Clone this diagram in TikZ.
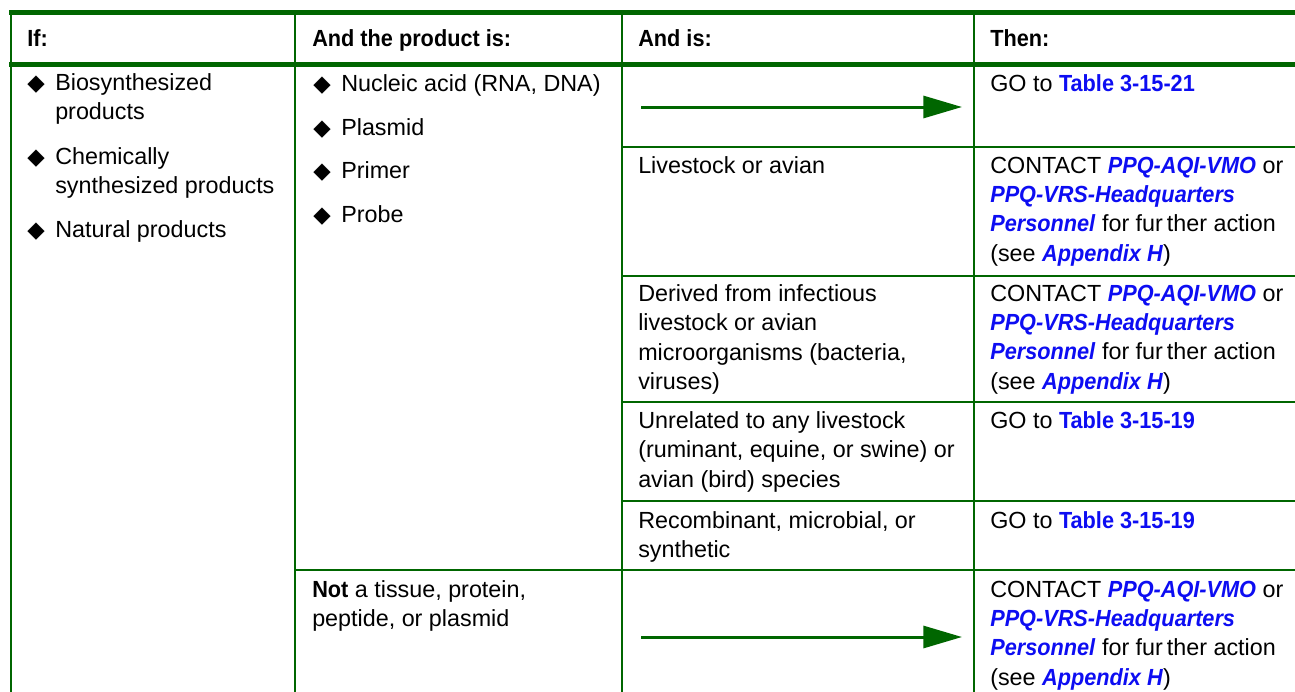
\documentclass[tikz,border=0pt]{standalone}
\usepackage{fontspec}
\setmainfont{Liberation Sans}[BoldFeatures={FakeStretch=0.93},BoldItalicFeatures={FakeStretch=0.93}]
\newfontfamily\symfont{DejaVu Sans}
\usetikzlibrary{arrows.meta}
\definecolor{tgreen}{rgb}{0,0.4,0}
\definecolor{lblue}{rgb}{0.05,0.05,0.95}
\newcommand\tsize{\fontsize{17.5}{22}\selectfont}
\tikzset{%
  rule/.style={draw=tgreen,line width=1.1pt},
  bar/.style={draw=tgreen,line width=3.75pt},
  cell/.style={anchor=north west,yshift=15.4pt,inner sep=0pt,align=left,font=\tsize,execute at begin node=\strut},
  mcell/.style={cell,yshift=-3pt},
  hd/.style={cell,font=\tsize\bfseries},
  bul/.style={anchor=base west,inner sep=0pt,font=\symfont\fontsize{17}{22}\selectfont},
  arr/.style={draw=tgreen,line width=2.25pt,-{Triangle[length=29pt,width=16.5pt]}}
}
\newcommand\lnk[1]{\textcolor{lblue}{\textbf{#1}}}
\newcommand\lnki[1]{\textcolor{lblue}{\textbf{\textit{#1}}}}
\newcommand\contact{CONTACT \lnki{PPQ-AQI-VMO} or\\\lnki{PPQ-VRS-Headquarters}\\\lnki{Personnel} for fur\,ther action\\(see \lnki{Appendix H})}
\begin{document}
\begin{tikzpicture}[x=0.75pt,y=-0.75pt]
  \useasboundingbox (0,0) rectangle (1295,692);
  %% column lines
  \coordinate (v0t) at (11,13);  \coordinate (v0b) at (11,692);
  \coordinate (v1t) at (295,13); \coordinate (v1b) at (295,692);
  \coordinate (v2t) at (622,13); \coordinate (v2b) at (622,692);
  \coordinate (v3t) at (974,13); \coordinate (v3b) at (974,692);
  \draw[rule] (v0t)--(v0b);
  \draw[rule] (v1t)--(v1b);
  \draw[rule] (v2t)--(v2b);
  \draw[rule] (v3t)--(v3b);
  %% row lines
  \coordinate (r1l) at (622,147); \coordinate (r1r) at (1295,147);
  \coordinate (r2l) at (622,276); \coordinate (r2r) at (1295,276);
  \coordinate (r3l) at (622,402); \coordinate (r3r) at (1295,402);
  \coordinate (r4l) at (622,501); \coordinate (r4r) at (1295,501);
  \coordinate (r5l) at (295,570); \coordinate (r5r) at (1295,570);
  \draw[rule] (r1l)--(r1r);
  \draw[rule] (r2l)--(r2r);
  \draw[rule] (r3l)--(r3r);
  \draw[rule] (r4l)--(r4r);
  \draw[rule] (r5l)--(r5r);
  %% header bars
  \coordinate (h0l) at (9,12.5); \coordinate (h0r) at (1295,12.5);
  \coordinate (h1l) at (9,64.5); \coordinate (h1r) at (1295,64.5);
  \draw[bar] (h0l)--(h0r);
  \draw[bar] (h1l)--(h1r);
  %%%
  \node[hd] (t0) at (27,46) {If:};
  \node[hd] (t1) at (312,46) {And the product is:};
  \node[hd] (t2) at (638,46) {And is:};
  \node[hd] (t3) at (990,46) {Then:};
  %% first column
  \node[bul] (b0) at (27,90) {◆};
  \node[bul] (b1) at (27,164) {◆};
  \node[bul] (b2) at (27,237) {◆};
  \node[mcell] (i0) at (55,90) {Biosynthesized\\products};
  \node[mcell] (i1) at (55,164) {Chemically\\synthesized products};
  \node[cell] (i2) at (55,237) {Natural products};
  %% second column
  \node[bul] (b3) at (313,91) {◆};
  \node[bul] (b4) at (313,135) {◆};
  \node[bul] (b5) at (313,178) {◆};
  \node[bul] (b6) at (313,222) {◆};
  \node[cell] (p0) at (341,91) {Nucleic acid (RNA, DNA)};
  \node[cell] (p1) at (341,135) {Plasmid};
  \node[cell] (p2) at (341,178) {Primer};
  \node[cell] (p3) at (341,222) {Probe};
  \node[mcell] (p4) at (312,597) {\textbf{Not} a tissue, protein,\\peptide, or plasmid};
  %% third column
  \node[cell] (a1) at (638,173) {Livestock or avian};
  \node[mcell] (a2) at (638,301) {Derived from infectious\\livestock or avian\\microorganisms (bacteria,\\viruses)};
  \node[mcell] (a3) at (638,428) {Unrelated to any livestock\\(ruminant, equine, or swine) or\\avian (bird) species};
  \node[mcell] (a4) at (638,528) {Recombinant, microbial, or\\synthetic};
  %% fourth column
  \node[cell] (n0) at (990,91) {GO to \lnk{Table 3-15-21}};
  \node[mcell] (n1) at (990,173) {\contact};
  \node[mcell] (n2) at (990,301) {\contact};
  \node[cell] (n3) at (990,428) {GO to \lnk{Table 3-15-19}};
  \node[cell] (n4) at (990,528) {GO to \lnk{Table 3-15-19}};
  \node[mcell] (n5) at (990,597) {\contact};
  %% arrows
  \coordinate (s0) at (641,107); \coordinate (e0) at (962,107);
  \coordinate (s1) at (641,637); \coordinate (e1) at (962,637);
  \draw[arr] (s0)--(e0);
  \draw[arr] (s1)--(e1);
\end{tikzpicture}
\end{document}
